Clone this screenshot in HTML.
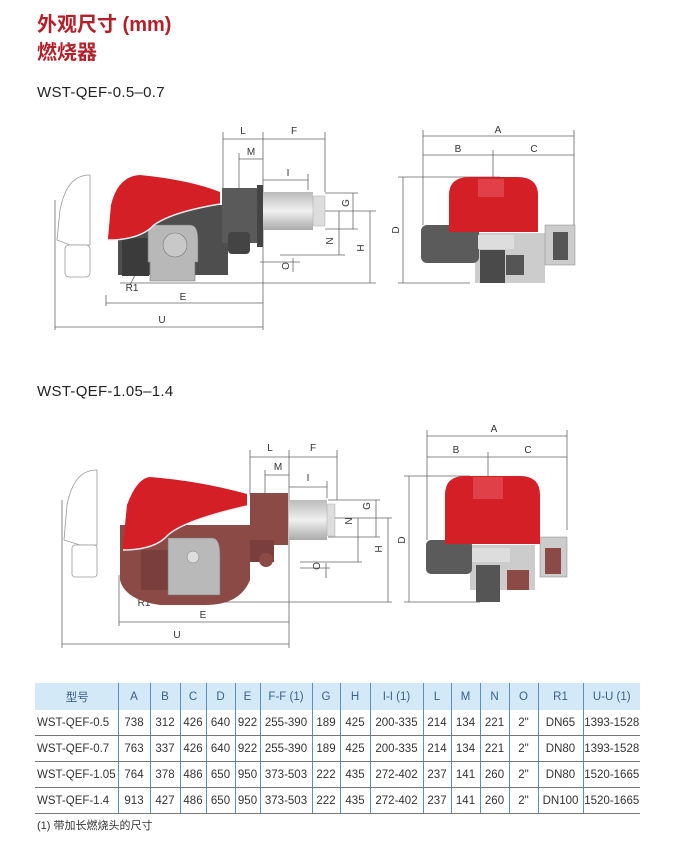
<!DOCTYPE html>
<html><head><meta charset="utf-8"><style>
body{margin:0;background:#fff;width:693px;height:849px;overflow:hidden;position:relative;font-family:"Liberation Sans","Noto Sans CJK SC",sans-serif}
.t{position:absolute;left:37px;color:#b3202a;font-weight:bold;font-size:20px;font-family:"Liberation Sans","Noto Sans CJK SC",sans-serif}
.m{position:absolute;left:37px;font-size:15px;color:#222;letter-spacing:0.3px}
svg{position:absolute;left:0;top:0}
table{position:absolute;left:35px;top:683px;border-collapse:collapse;font-size:11.5px;color:#333}
td{height:25px;padding:0;text-align:center;border-left:1px solid #5a8fc0;border-bottom:1.5px solid #777}
td:first-child{border-left:none;text-align:left;padding-left:2px}
tr.h td{background:#d3e9f7;height:27px;color:#3a5f8a;border-bottom:none}
.note{position:absolute;left:37px;top:817px;font-size:11px;color:#333}
</style></head><body>
<div class="t" style="top:8px">外观尺寸 (mm)</div>
<div class="t" style="top:36px">燃烧器</div>
<div class="m" style="top:84px">WST-QEF-0.5–0.7</div>
<div class="m" style="top:383px">WST-QEF-1.05–1.4</div>
<svg width="693" height="680" viewBox="0 0 693 680">
<defs><linearGradient id="tb" x1="0" y1="0" x2="0" y2="1"><stop offset="0" stop-color="#bbb"/><stop offset="0.5" stop-color="#f0f0f0"/><stop offset="1" stop-color="#aaa"/></linearGradient></defs>
<g stroke="#666" stroke-width="0.8" fill="none">
<path d="M223 139H325M239 159H263M263 180H308M223 132V190M263 132V330M325 132V192M239 153V195M308 174V190M106 295V306M106 303H263M55 200V330M55 327H263"/>
<path d="M325 193H358M325 229H358M353 193V229M300 211H376M339 211V255M370 211V283M280 255H345M120 283H376M293 258V272M260 262H300"/>
<path d="M423 136H574M423 155H574M493 150V177M423 130V225M574 130V225M398 177H500M398 283H470M403 177V283"/>
<path d="M250 457H337M265 475H289M289 487H327M250 450V495M289 450V648M337 450V500M265 470V498M327 481V498M119 575V626M119 622H289M62 500V648M62 644H289"/>
<path d="M328 500H380M328 537H380M376 500V537M310 518H392M358 518V562M388 518V602M300 562H362M150 602H392M326 563V578M300 568H330"/>
<path d="M427 436H567M427 457H567M488 452V476M427 430V540M567 430V530M404 476H470M404 602H480M409 476V602"/>
<path d="M130 285L140 265M140 598L155 585"/>
</g>
<g font-size="10" fill="#333" text-anchor="middle">
<text x="243" y="134">L</text><text x="294" y="134">F</text><text x="251" y="155">M</text><text x="288" y="176">I</text>
<text x="349" y="203" transform="rotate(-90 349 203)">G</text><text x="333" y="241" transform="rotate(-90 333 241)">N</text>
<text x="364" y="248" transform="rotate(-90 364 248)">H</text><text x="289" y="266" transform="rotate(-90 289 266)">O</text>
<text x="183" y="300">E</text><text x="162" y="323">U</text><text x="132" y="291">R1</text>
<text x="498" y="133">A</text><text x="458" y="152">B</text><text x="534" y="152">C</text><text x="399" y="230" transform="rotate(-90 399 230)">D</text>
<text x="270" y="451">L</text><text x="313" y="451">F</text><text x="278" y="470">M</text><text x="308" y="481">I</text>
<text x="370" y="506" transform="rotate(-90 370 506)">G</text><text x="352" y="521" transform="rotate(-90 352 521)">N</text>
<text x="382" y="549" transform="rotate(-90 382 549)">H</text><text x="320" y="566" transform="rotate(-90 320 566)">O</text>
<text x="203" y="618">E</text><text x="177" y="638">U</text><text x="144" y="606">R1</text>
<text x="494" y="432">A</text><text x="456" y="453">B</text><text x="528" y="453">C</text><text x="405" y="540" transform="rotate(-90 405 540)">D</text>
</g>
<g fill="#fff" stroke="#999" stroke-width="0.8">
<path d="M90 175C75 175 65 185 60 210L57 240L70 245H90Z"/><rect x="65" y="245" width="25" height="32" rx="4"/>
<path d="M97 470C82 470 72 480 67 505L64 540L80 545H97Z"/><rect x="72" y="545" width="25" height="32" rx="3"/>
</g>
<rect x="118" y="205" width="110" height="70" fill="#4e4e4e"/>
<rect x="122" y="238" width="27" height="38" fill="#3b3b3b"/>
<path d="M148 225H190Q198 225 198 240V262H195V281H150V262H148Z" fill="#b8b8b8" stroke="#777" stroke-width="0.6"/>
<circle cx="175" cy="245" r="12" fill="#c8c8c8" stroke="#777" stroke-width="0.6"/>
<path d="M108 238L111 205Q118 176 140 175Q190 180 220 192L220 204Q172 212 154 225Q140 240 108 240Z" fill="#d41f26"/>
<path d="M108 240Q140 240 154 225Q172 212 220 204" stroke="#eee" stroke-width="1.5" fill="none"/>
<rect x="222" y="188" width="36" height="55" fill="#5a5a5a"/>
<rect x="257" y="185" width="6" height="62" fill="#444"/>
<rect x="228" y="232" width="22" height="22" rx="4" fill="#444"/>
<rect x="263" y="192" width="50" height="38" fill="url(#tb)"/>
<rect x="313" y="196" width="12" height="30" fill="#ddd" stroke="#aaa" stroke-width="0.5"/>
<rect x="475" y="233" width="70" height="50" fill="#ccc"/>
<rect x="421" y="225" width="58" height="38" rx="6" fill="#5b5b5b"/>
<rect x="480" y="250" width="25" height="33" fill="#4a4a4a"/>
<rect x="506" y="255" width="18" height="20" fill="#555"/>
<rect x="545" y="225" width="30" height="40" fill="#ccc" stroke="#888" stroke-width="0.5"/>
<rect x="553" y="232" width="15" height="28" fill="#555"/>
<path d="M449 232V195Q449 177 470 177H517Q538 177 538 195V232Z" fill="#d41f26"/>
<rect x="478" y="179" width="26" height="18" fill="#e04048"/>
<rect x="478" y="235" width="36" height="14" fill="#ddd"/>
<path d="M120 525H250V580Q240 605 205 605H160Q125 600 120 580Z" fill="#8c4a47"/>
<rect x="141" y="550" width="30" height="40" fill="#7a3e3c"/>
<path d="M168 538H212Q220 538 220 555V595H168Z" fill="#b9b9b9" stroke="#777" stroke-width="0.6"/>
<circle cx="193" cy="557" r="6" fill="#ddd" stroke="#777" stroke-width="0.5"/>
<path d="M123 545L127 505Q137 478 150 477Q200 481 247 494L247 506Q185 520 168 535Q155 550 123 550Z" fill="#d41f26"/>
<path d="M123 550Q155 550 168 535Q185 520 247 506" stroke="#eee" stroke-width="1.5" fill="none"/>
<rect x="250" y="493" width="38" height="52" fill="#8c4a47"/>
<rect x="250" y="540" width="24" height="22" fill="#7a3e3c"/>
<circle cx="266" cy="560" r="7" fill="#8c4a47"/>
<rect x="289" y="500" width="38" height="40" fill="url(#tb)"/>
<rect x="327" y="504" width="8" height="32" fill="#ddd" stroke="#aaa" stroke-width="0.5"/>
<rect x="470" y="545" width="65" height="45" fill="#ccc"/>
<rect x="426" y="540" width="46" height="34" rx="5" fill="#5b5b5b"/>
<rect x="476" y="565" width="24" height="37" fill="#555"/>
<rect x="507" y="570" width="22" height="20" fill="#8c4a47"/>
<rect x="540" y="537" width="27" height="40" fill="#ccc" stroke="#888" stroke-width="0.5"/>
<rect x="545" y="548" width="16" height="26" fill="#8c4a47"/>
<path d="M445 544V495Q445 476 465 476H520Q540 476 540 495V544Z" fill="#d41f26"/>
<rect x="473" y="477" width="30" height="22" fill="#e04048"/>
<rect x="472" y="548" width="38" height="14" fill="#ddd"/>
</svg>
<table>
<colgroup><col style="width:83px"><col style="width:32px"><col style="width:30px"><col style="width:26px"><col style="width:29px"><col style="width:25px"><col style="width:52px"><col style="width:28px"><col style="width:30px"><col style="width:53px"><col style="width:28px"><col style="width:29px"><col style="width:29px"><col style="width:29px"><col style="width:45px"><col style="width:57px"></colgroup>
<tr class="h"><td style="text-align:center">型号</td><td>A</td><td>B</td><td>C</td><td>D</td><td>E</td><td>F-F (1)</td><td>G</td><td>H</td><td>I-I (1)</td><td>L</td><td>M</td><td>N</td><td>O</td><td>R1</td><td>U-U (1)</td></tr>
<tr><td>WST-QEF-0.5</td><td>738</td><td>312</td><td>426</td><td>640</td><td>922</td><td>255-390</td><td>189</td><td>425</td><td>200-335</td><td>214</td><td>134</td><td>221</td><td>2"</td><td>DN65</td><td>1393-1528</td></tr>
<tr><td>WST-QEF-0.7</td><td>763</td><td>337</td><td>426</td><td>640</td><td>922</td><td>255-390</td><td>189</td><td>425</td><td>200-335</td><td>214</td><td>134</td><td>221</td><td>2"</td><td>DN80</td><td>1393-1528</td></tr>
<tr><td>WST-QEF-1.05</td><td>764</td><td>378</td><td>486</td><td>650</td><td>950</td><td>373-503</td><td>222</td><td>435</td><td>272-402</td><td>237</td><td>141</td><td>260</td><td>2"</td><td>DN80</td><td>1520-1665</td></tr>
<tr><td>WST-QEF-1.4</td><td>913</td><td>427</td><td>486</td><td>650</td><td>950</td><td>373-503</td><td>222</td><td>435</td><td>272-402</td><td>237</td><td>141</td><td>260</td><td>2"</td><td>DN100</td><td>1520-1665</td></tr>
</table>
<div class="note">(1) 带加长燃烧头的尺寸</div>
</body></html>
